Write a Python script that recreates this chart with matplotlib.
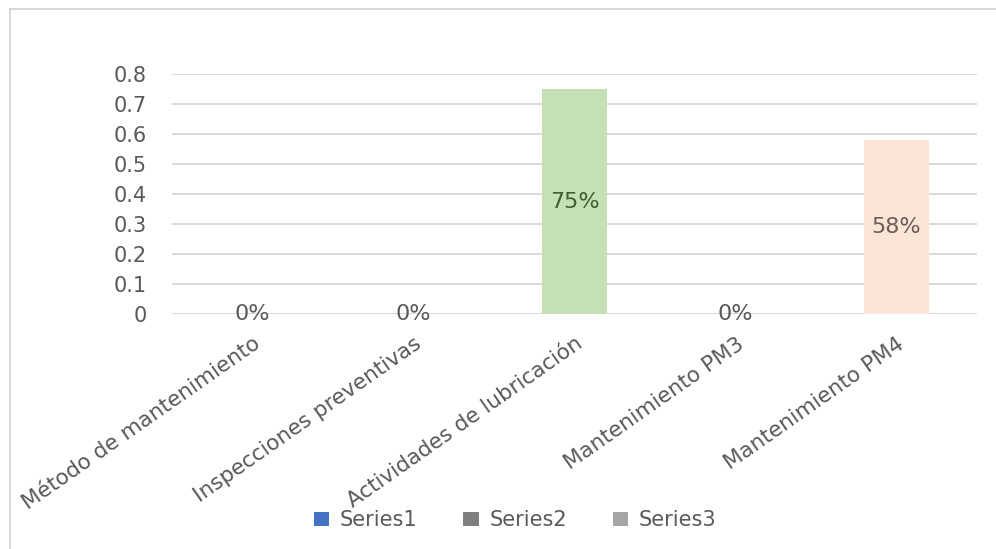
import matplotlib
matplotlib.use("Agg")
import matplotlib.pyplot as plt
from matplotlib.lines import Line2D
from matplotlib.patches import Patch
from matplotlib.transforms import ScaledTranslation

# data
categories = ["Método de mantenimiento", "Inspecciones preventivas",
              "Actividades de lubricación", "Mantenimiento PM3", "Mantenimiento PM4"]
values = [0.0, 0.0, 0.75, 0.0, 0.58]
bar_colors = ["#4472C4", "#A5A5A5", "#C5E0B4", "#FFD966", "#FBE5D6"]
label_colors = ["#595959", "#595959", "#3E5E33", "#595959", "#6B5E57"]
legend_labels = ["Series1", "Series2", "Series3"]
legend_colors = ["#4472C4", "#7F7F7F", "#A5A5A5"]
yticks = [0, 0.1, 0.2, 0.3, 0.4, 0.5, 0.6, 0.7, 0.8]
ytick_labels = ["0", "0.1", "0.2", "0.3", "0.4", "0.5", "0.6", "0.7", "0.8"]

plt.rcParams["font.family"] = ["DejaVu Sans"]
grey = "#595959"

fig = plt.figure(figsize=(9.96, 5.49), dpi=100)
# chart frame: only the top and left edges are inside the picture
fx, fy = 10 / 996, 1 - 9 / 549
fig.add_artist(Line2D([fx, 1], [fy, fy], transform=fig.transFigure,
                      color="#D0D0D0", linewidth=1.2))
fig.add_artist(Line2D([fx, fx], [0, fy], transform=fig.transFigure,
                      color="#D0D0D0", linewidth=1.2))

ax = fig.add_axes([172 / 996, 1 - 314 / 549, 805 / 996, 240 / 549])
x = range(len(categories))
bars = ax.bar(x, values, width=0.4, color=bar_colors, zorder=2)

for i, (b, v) in enumerate(zip(bars, values)):
    ax.text(b.get_x() + b.get_width() / 2, v / 2, f"{v:.0%}",
            ha="center", va="center", fontsize=16, color=label_colors[i],
            zorder=3)

ax.set_xlim(-0.5, len(categories) - 0.5)
ax.set_ylim(0, 0.8)
ax.set_yticks(yticks)
ax.set_yticklabels(ytick_labels)
ax.grid(axis="y", color="#D9D9D9", linewidth=1.4, zorder=0)
ax.set_axisbelow(True)
for s in ax.spines.values():
    s.set_visible(False)
ax.tick_params(axis="both", length=0, labelsize=15, colors=grey)
ax.tick_params(axis="y", pad=18)
ax.set_xticks(list(x))
ax.set_xticklabels(categories, rotation=35, ha="right", va="center",
                   rotation_mode="anchor", fontsize=15.5)
ax.tick_params(axis="x", pad=20)
shift = ScaledTranslation(6 / 100, 0, fig.dpi_scale_trans)
for lab in ax.get_xticklabels():
    lab.set_transform(lab.get_transform() + shift)

handles = [Patch(facecolor=c, edgecolor="none") for c in legend_colors]
fig.legend(handles, legend_labels, loc="center", bbox_to_anchor=(515 / 996, 1 - 520 / 549),
           ncol=3, frameon=False, fontsize=15, labelcolor=grey,
           handlelength=0.75, handleheight=0.65, handletextpad=0.5, columnspacing=2.2)

fig.savefig("out.png", dpi=100)
